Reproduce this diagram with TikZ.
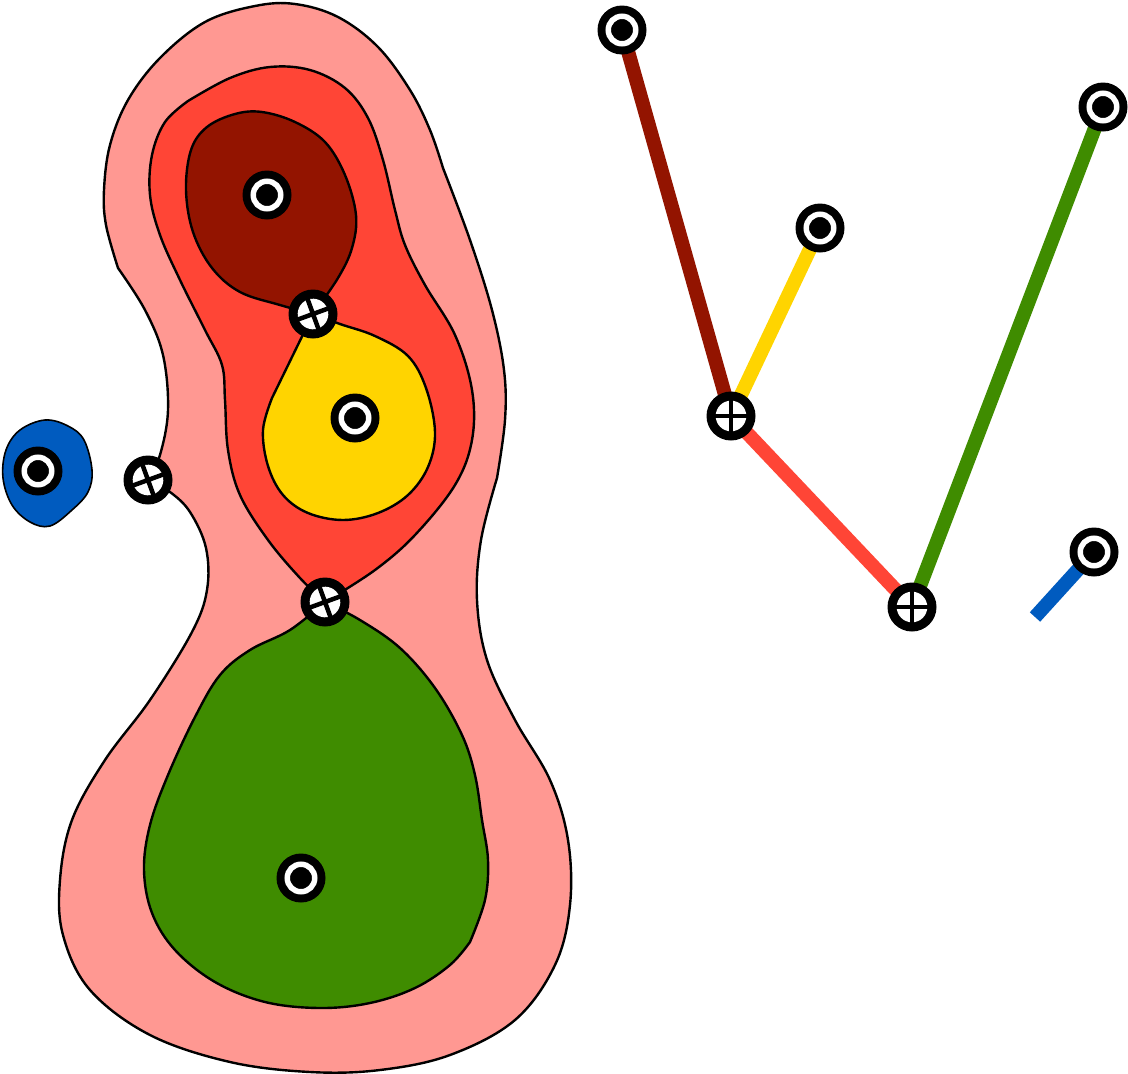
\documentclass[tikz,border=0pt]{standalone}
\usetikzlibrary{backgrounds}
\definecolor{cpink}{HTML}{FF9892}
\definecolor{cred}{HTML}{FF4536}
\definecolor{cdark}{HTML}{931400}
\definecolor{cyel}{HTML}{FFD400}
\definecolor{cgreen}{HTML}{3F8C00}
\definecolor{cblue}{HTML}{005BBF}
\begin{document}
\begin{tikzpicture}[x=1pt,y=-1pt,
  region/.style={draw=black, line width=2.4pt, line join=round},
  marker/.style={circle, fill=black, minimum size=49pt, inner sep=0pt},
  conn/.style={line width=14pt, draw=#1, line cap=butt}
]
\useasboundingbox (0,0) rectangle (1128,1074);

% outer pink region
\draw[region, fill=cpink]
  (148,480) -- plot[smooth, tension=0.6] coordinates {(148,480) (160,455) (168,410) (163,355) (145,310) (118,268)}
  -- plot[smooth, tension=0.6] coordinates {(118,268) (106,225) (104,190) (110,145) (128,100) (160,58) (205,22) (255,6) (295,4) (338,17) (378,47) (410,90) (430,130) (443,168)}
  -- plot[smooth, tension=0.6] coordinates {(443,168) (470,240) (492,310) (504,370) (505,420) (497,478)}
  -- plot[smooth, tension=0.6] coordinates {(497,478) (481,540) (477,600) (487,660) (515,720) (550,780) (568,840) (570,905) (555,965) (515,1020) (450,1055) (380,1070) (310,1072) (230,1062) (150,1035) (90,990) (63,935) (60,880) (72,820) (105,760) (150,700) (192,632) (207,590) (206,548) (190,512) (170,492) (148,480)}
  -- cycle;

% red region
\draw[region, fill=cred]
  (325,602) -- plot[smooth, tension=0.6] coordinates {(325,602) (300,578) (268,540) (240,495) (228,450) (225,400) (222,365) (205,330) (180,280) (160,235) (150,195) (152,155) (165,122) (188,101)}
  -- plot[smooth, tension=0.6] coordinates {(188,101) (230,78) (270,67) (310,70) (345,88) (368,118) (383,160) (395,210) (405,245) (425,285) (455,335) (472,390) (472,440) (455,485) (415,535) (375,570) (325,602)}
  -- cycle;

% dark red region
\draw[region, fill=cdark]
  (313,314) -- plot[smooth, tension=0.6] coordinates {(313,314) (280,305) (240,292) (212,268) (193,232) (186,190) (191,150) (207,127) (235,114) (262,112) (295,122) (325,142) (345,175) (356,215) (352,248) (338,278) (313,314)}
  -- cycle;

% yellow region
\draw[region, fill=cyel]
  (313,314) -- (272,398) -- plot[smooth, tension=0.6] coordinates {(272,398) (263,430) (268,466) (283,495) (308,513) (343,520) (378,513) (408,495) (428,467) (435,432) (426,388) (408,356) (375,336) (340,324) (313,314)}
  -- cycle;

% green region
\draw[region, fill=cgreen]
  (325,602) -- plot[smooth, tension=0.6] coordinates {(325,602) (360,620) (400,648) (435,688) (462,735) (475,775) (482,820) (488,860) (485,900) (470,942)}
  -- plot[smooth, tension=0.6] coordinates {(470,942) (450,965) (415,988) (370,1003) (320,1008) (265,1002) (215,982) (175,950) (152,913) (144,870) (150,825) (168,775) (195,717) (220,675) (250,650) (290,630) (325,602)}
  -- cycle;

% blue blob
\draw[draw=black, line width=1.6pt, fill=cblue]
  plot[smooth cycle, tension=0.6] coordinates {(45,420) (68,426) (84,440) (92,470) (88,492) (72,510) (50,526) (30,522) (12,505) (3,478) (6,450) (20,430)};

% markers, left panel
\node[marker] (fa) at (267,195) {};
\node[marker] (fb) at (355,418) {};
\node[marker] (fc) at (301,878) {};
\node[marker] (fd) at (38,471) {};
\node[marker] (sa) at (148,480) {};
\node[marker] (sb) at (313,314) {};
\node[marker] (sc) at (325,602) {};

% right panel: tree
\node[marker] (t1) at (622,30) {};
\node[marker] (t2) at (820,228) {};
\node[marker] (t3) at (1103,107) {};
\node[marker] (t4) at (1094,552) {};
\node[marker] (u1) at (731,416) {};
\node[marker] (u2) at (912,607) {};
\coordinate (b0) at (1035,617);

% focus rings
\foreach \n in {fa,fb,fc,fd,t1,t2,t3,t4} {
  \draw[white, line width=5.5pt] (\n.center) circle[radius=13.75pt];
}
% saddle crosses
\foreach \n/\a in {sa/20,sb/20,sc/20,u1/0,u2/0} {
  \begin{scope}[shift={(\n.center)}, rotate=\a]
    \fill[white] (0pt,0pt) circle[radius=15.3pt];
    \draw[black, line width=4.5pt] (-17pt,0pt) -- (17pt,0pt) (0pt,-17pt) -- (0pt,17pt);
  \end{scope}
}

\begin{scope}[on background layer]
  \draw[conn=cdark] (u1.center) -- (t1.center);
  \draw[conn=cyel] (u1.center) -- (t2.center);
  \draw[conn=cred] (u1.center) -- (u2.center);
  \draw[conn=cgreen] (u2.center) -- (t3.center);
  \draw[conn=cblue] (b0) -- (t4.center);
\end{scope}
\end{tikzpicture}
\end{document}
